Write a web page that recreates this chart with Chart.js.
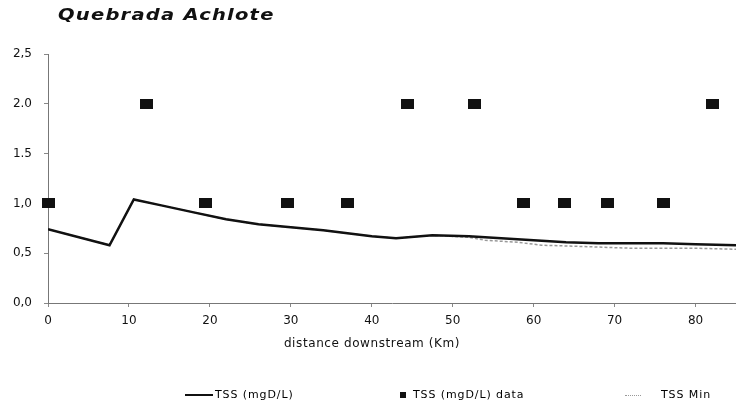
<!DOCTYPE html>
<html>
<head>
<meta charset="utf-8">
<script src="https://cdn.jsdelivr.net/npm/chart.js@4"></script>
<style>
  html, body { margin: 0; padding: 0; background: #fff; }
  #wrap { position: relative; width: 736px; height: 405px; font-family: "DejaVu Sans", sans-serif; color: #111; }
  #chart { position: absolute; left: 0; top: 0; }
  .title { position: absolute; left: 58px; top: 5px; font: italic bold 16px "DejaVu Sans", sans-serif; letter-spacing: 1px; transform: scaleX(1.22); transform-origin: 0 0; white-space: nowrap; }
  .xtitle { position: absolute; left: 0; width: 744px; top: 336px; text-align: center; font-size: 12px; letter-spacing: 0.6px; color: #111; }
  .leg { position: absolute; top: 388px; font-size: 11px; letter-spacing: 0.9px; color: #000; white-space: nowrap; }
  .swatch { position: absolute; }
</style>
</head>
<body>
<div id="wrap">
  <canvas id="chart" width="736" height="405"></canvas>
  <div class="title">Quebrada Achlote</div>
  <div class="xtitle">distance downstream (Km)</div>
  <div class="swatch" style="left:185px;top:394px;width:28px;height:0;border-top:2.5px solid #111;"></div>
  <div class="leg" style="left:215px;">TSS (mgD/L)</div>
  <div class="swatch" style="left:400px;top:392px;width:6px;height:6px;background:#111;"></div>
  <div class="leg" style="left:413px;">TSS (mgD/L) data</div>
  <div class="swatch" style="left:625px;top:395px;width:16px;height:0;border-top:1px dotted #999;"></div>
  <div class="leg" style="left:661px;">TSS Min</div>
</div>
<script>
// modelled TSS along the stream (km, mg/L)
const tssKm = [0, 7.6, 10.6, 14, 18, 22, 26, 30, 34, 38, 40, 43, 47.5, 52, 56, 60, 64, 68, 72, 76, 80, 85];
const tssVal = [0.74, 0.58, 1.04, 0.98, 0.91, 0.84, 0.79, 0.76, 0.73, 0.69, 0.67, 0.65, 0.68, 0.67, 0.65, 0.63, 0.61, 0.60, 0.60, 0.60, 0.59, 0.58];

// minimum curve, splits off the main one past ~50 km
const minKm = [0, 7.6, 10.6, 14, 18, 22, 26, 30, 34, 38, 40, 43, 47.5, 52, 54, 58, 61, 65, 72, 80, 85];
const minVal = [0.74, 0.58, 1.04, 0.98, 0.91, 0.84, 0.79, 0.76, 0.73, 0.69, 0.67, 0.65, 0.68, 0.66, 0.63, 0.61, 0.58, 0.57, 0.55, 0.55, 0.54];

// measured samples
const dataKm = [0, 12.2, 19.4, 29.6, 37, 44.4, 52.7, 58.8, 63.8, 69.1, 76, 82.1];
const dataVal = [1, 2, 1, 1, 1, 2, 2, 1, 1, 1, 1, 2];

const xTicks = [0, 10, 20, 30, 40, 50, 60, 70, 80];
const yLabels = ['0,0', '0,5', '1,0', '1.5', '2.0', '2,5'];

const pts = (xs, ys) => xs.map((x, i) => ({ x: x, y: ys[i] }));

// flat black block used as marker
const marker = document.createElement('canvas');
marker.width = 13;
marker.height = 10;
const mctx = marker.getContext('2d');
mctx.fillStyle = '#111';
mctx.fillRect(0, 0, 13, 10);

const ctx = document.getElementById('chart').getContext('2d');
new Chart(ctx, {
    type: 'scatter',
    data: {
        datasets: [{
            label: 'TSS (mgD/L) data',
            data: pts(dataKm, dataVal),
            pointStyle: marker,
            pointRadius: 6,
            clip: false,
            order: 0
        }, {
            type: 'line',
            label: 'TSS (mgD/L)',
            data: pts(tssKm, tssVal),
            borderColor: '#111',
            borderWidth: 2.5,
            pointRadius: 0,
            tension: 0,
            order: 1
        }, {
            type: 'line',
            label: 'TSS Min',
            data: pts(minKm, minVal),
            borderColor: '#999',
            borderWidth: 1.5,
            borderDash: [3, 2],
            pointRadius: 0,
            tension: 0,
            order: 2
        }]
    },
    options: {
        responsive: false,
        animation: false,
        layout: { autoPadding: false, padding: { top: 54, right: 0, bottom: 0, left: 0 } },
        plugins: {
            legend: { display: false },
            title: { display: false },
            tooltip: { enabled: false }
        },
        scales: {
            x: {
                type: 'linear',
                min: 0,
                max: 85,
                afterFit: (scale) => {
                    scale.height = 102;
                    scale.paddingLeft = 0;
                    scale.paddingRight = 0;
                },
                afterBuildTicks: (scale) => { scale.ticks = xTicks.map(v => ({ value: v })); },
                grid: { drawOnChartArea: false, drawTicks: true, tickLength: 4, color: '#888' },
                border: { display: true, color: '#777', width: 1, dash: [1, 3] },
                ticks: {
                    padding: 7,
                    color: '#111',
                    font: { family: 'DejaVu Sans', size: 12 }
                }
            },
            y: {
                min: 0,
                max: 2.5,
                afterFit: (scale) => { scale.width = 48; },
                grid: { drawOnChartArea: false, drawTicks: true, tickLength: 4, color: '#888' },
                border: { display: true, color: '#777', width: 1, dash: [1, 3] },
                ticks: {
                    stepSize: 0.5,
                    padding: 12,
                    color: '#111',
                    font: { family: 'DejaVu Sans', size: 12 },
                    callback: (v, i) => yLabels[i]
                }
            }
        }
    }
});
</script>
</body>
</html>
